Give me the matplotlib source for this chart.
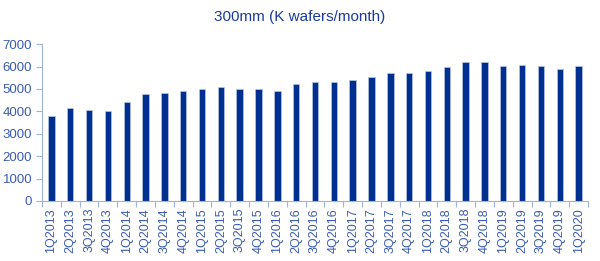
import matplotlib
matplotlib.use('Agg')
import matplotlib.pyplot as plt
import numpy as np

# Quartale und Kapazitaet (K wafers/month)
quarters = ['1Q2013', '2Q2013', '3Q2013', '4Q2013',
            '1Q2014', '2Q2014', '3Q2014', '4Q2014',
            '1Q2015', '2Q2015', '3Q2015', '4Q2015',
            '1Q2016', '2Q2016', '3Q2016', '4Q2016',
            '1Q2017', '2Q2017', '3Q2017', '4Q2017',
            '1Q2018', '2Q2018', '3Q2018', '4Q2018',
            '1Q2019', '2Q2019', '3Q2019', '4Q2019',
            '1Q2020']
capacity = [3780, 4160, 4060, 4000,
            4400, 4770, 4810, 4900,
            5010, 5070, 4980, 5010,
            4900, 5210, 5290, 5300,
            5420, 5510, 5700, 5700,
            5820, 5970, 6220, 6180,
            6010, 6060, 6010, 5910,
            6010]

plt.rcParams['font.family'] = ['Liberation Sans', 'DejaVu Sans']

bar_color = '#00308f'
tick_color = '#3a5bb0'
axis_color = '#9fb3d9'

fig = plt.figure(figsize=(6, 2.61), dpi=100)
ax = fig.add_axes([0.07, 0.23, 0.91, 0.601])

x = np.arange(len(quarters))
ax.bar(x, capacity, width=0.34, color=bar_color, edgecolor='#b8c6e6', linewidth=0.5)

ax.set_xlim(-0.5, len(quarters) - 0.5)
ax.set_ylim(0, 7000)
ax.set_yticks(np.arange(0, 7001, 1000))

# x-Ticks zwischen den Balken, Beschriftung mittig
ax.set_xticks(np.arange(-0.5, len(quarters), 1))
ax.set_xticklabels([])
ax.set_xticks(x, minor=True)
ax.set_xticklabels(quarters, minor=True, rotation=90, fontsize=9, color=tick_color)
ax.tick_params(axis='x', which='minor', length=0, pad=5)
ax.tick_params(axis='x', which='major', length=4, direction='out', color=axis_color)
ax.tick_params(axis='y', labelsize=9.5, labelcolor=tick_color, length=4, color=axis_color, pad=3)

for side in ['top', 'right']:
    ax.spines[side].set_visible(False)
ax.spines['left'].set_color(axis_color)
ax.spines['bottom'].set_color(axis_color)

fig.text(0.5, 0.935, '300mm (K wafers/month)', ha='center', va='center',
         fontsize=11, color='#1a3a9c')

fig.savefig('out.png', dpi=100)
